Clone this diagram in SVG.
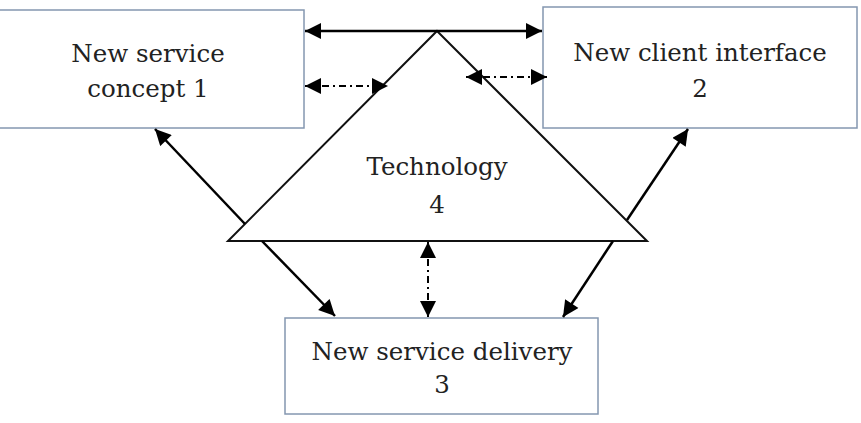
<svg xmlns="http://www.w3.org/2000/svg" width="861" height="423" viewBox="0 0 861 423">
<defs>
<marker id="ah" viewBox="0 0 10 10" refX="10" refY="5" markerWidth="6.8" markerHeight="6.4" orient="auto-start-reverse" markerUnits="strokeWidth">
<path d="M0,0 L10,5 L0,10 z" fill="#000"/>
</marker>
<marker id="ahd" viewBox="0 0 10 10" refX="10" refY="5" markerWidth="8.5" markerHeight="8" orient="auto-start-reverse" markerUnits="strokeWidth">
<path d="M0,0 L10,5 L0,10 z" fill="#000"/>
</marker>
<style>
.box{fill:#fff;stroke:#8497b0;stroke-width:1.5}
.lbl{font-family:"DejaVu Serif","Liberation Serif",serif;font-size:24.5px;fill:#222;text-anchor:middle}
.solid{stroke:#000;stroke-width:2.5;fill:none;marker-start:url(#ah);marker-end:url(#ah)}
.one{stroke:#000;stroke-width:2.5;fill:none;marker-end:url(#ah)}
.dd{stroke:#000;stroke-width:2;fill:none;stroke-dasharray:7 4 2 4;marker-start:url(#ahd);marker-end:url(#ahd)}
</style>
</defs>
<g id="node1"><rect class="box" x="-1" y="10" width="305" height="118"/>
<text class="lbl" x="148" y="62">New service</text><text class="lbl" x="148" y="97">concept 1</text></g>
<g id="node2"><rect class="box" x="543" y="7" width="314" height="121"/>
<text class="lbl" x="700" y="61">New client interface</text><text class="lbl" x="700" y="97">2</text></g>
<g id="node3"><rect class="box" x="285" y="318" width="313" height="96"/>
<text class="lbl" x="442" y="360">New service delivery</text><text class="lbl" x="442" y="393">3</text></g>
<g id="node4"><polygon points="437,31 647,241 228,241" fill="#fff" stroke="#111" stroke-width="2"/>
<text class="lbl" x="437" y="175">Technology</text><text class="lbl" x="437" y="213">4</text></g>
<g id="connectors">
<line class="solid" x1="305" y1="31" x2="542" y2="31"/>
<line class="dd" x1="305" y1="86" x2="388" y2="86"/>
<line class="dd" x1="466" y1="77" x2="547" y2="77"/>
<line class="one" x1="245" y1="224" x2="155" y2="129"/>
<line class="one" x1="262" y1="241" x2="335" y2="316"/>
<line class="dd" x1="428" y1="242" x2="428" y2="317"/>
<line class="one" x1="627" y1="220" x2="688" y2="129"/>
<line class="one" x1="613" y1="241" x2="563" y2="317"/>
</g>
</svg>
